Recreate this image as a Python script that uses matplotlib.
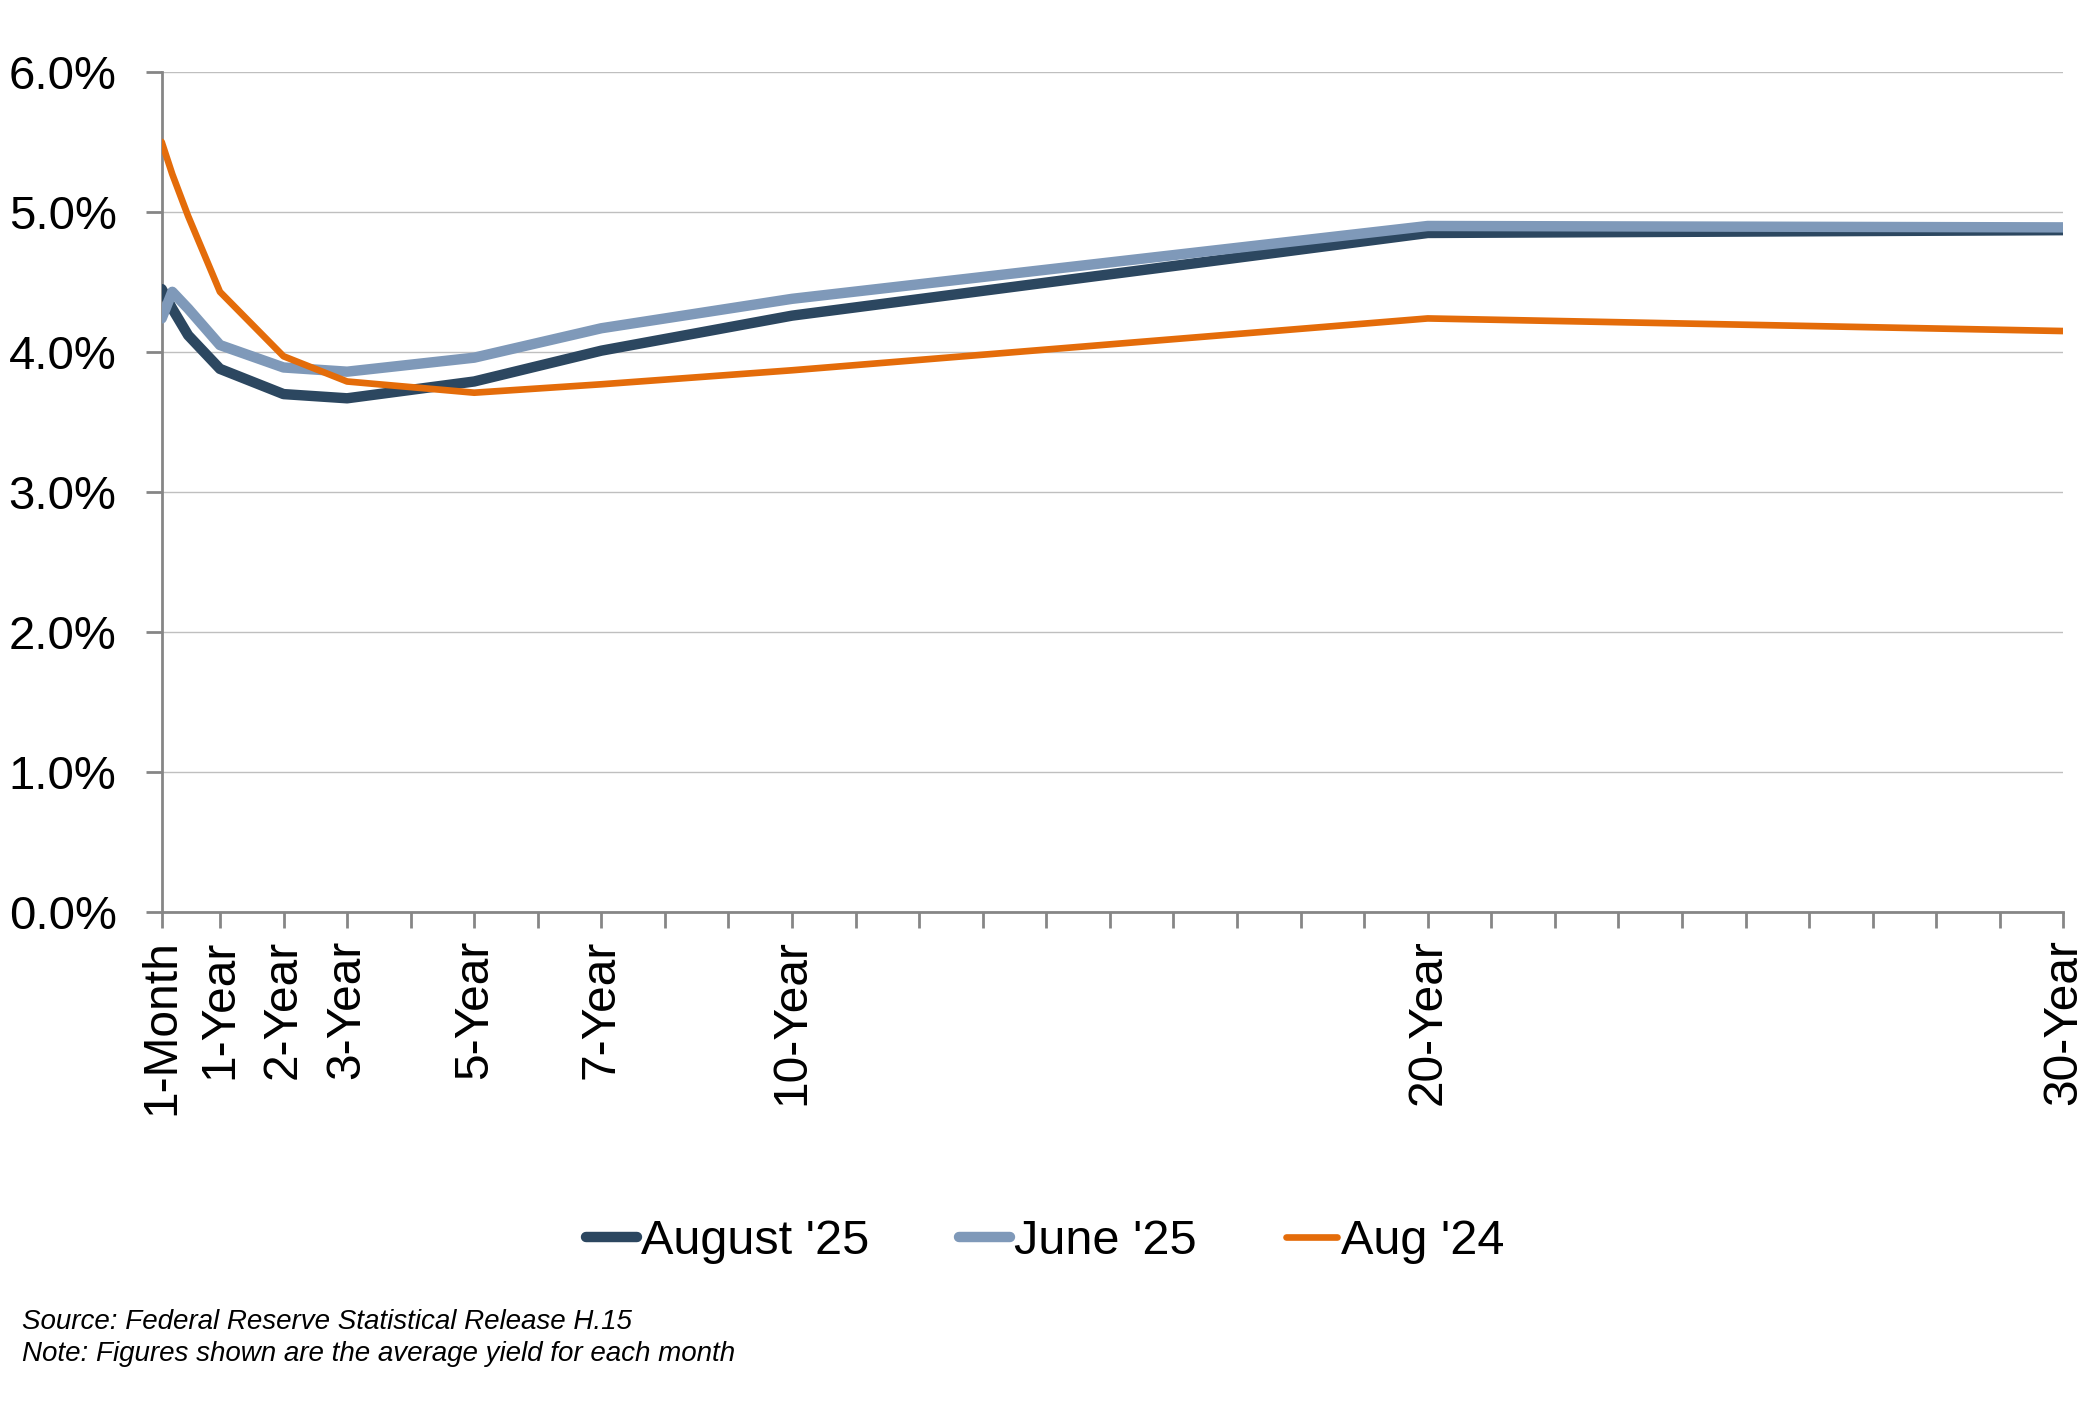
import numpy as np
import matplotlib
matplotlib.use('Agg')
from matplotlib import pyplot as plt
from matplotlib.ticker import FuncFormatter, FixedLocator

plt.rcParams['font.family'] = ['Liberation Sans', 'DejaVu Sans']

# maturities (years) and average yields (%)
tenor = ['1-Month', '3-Month', '6-Month', '1-Year', '2-Year', '3-Year',
         '5-Year', '7-Year', '10-Year', '20-Year', '30-Year']
term_years = [1 / 12, 0.25, 0.5, 1, 2, 3, 5, 7, 10, 20, 30]
aug25 = [4.45, 4.31, 4.12, 3.88, 3.70, 3.67, 3.79, 4.01, 4.26, 4.85, 4.87]
jun25 = [4.24, 4.43, 4.31, 4.05, 3.89, 3.86, 3.96, 4.17, 4.38, 4.90, 4.89]
aug24 = [5.50, 5.27, 4.97, 4.43, 3.97, 3.79, 3.71, 3.77, 3.87, 4.24, 4.15]
shown = ['1-Month', '1-Year', '2-Year', '3-Year', '5-Year', '7-Year',
         '10-Year', '20-Year', '30-Year']

c_dark = '#2C4760'
c_light = '#7F99B9'
c_orange = '#E46C0A'
c_axis = '#868686'
c_grid = '#BFBFBF'

fig = plt.figure(figsize=(20.78, 14.09), dpi=100)
ax = fig.add_axes([0.0778, 0.3524, 0.9152, 0.5966])

ax.plot(term_years, aug25, color=c_dark, lw=7.5, solid_capstyle='round',
        solid_joinstyle='round', label="August '25", zorder=3)
ax.plot(term_years, jun25, color=c_light, lw=7.5, solid_capstyle='round',
        solid_joinstyle='round', label="June '25", zorder=4)
ax.plot(term_years, aug24, color=c_orange, lw=4.8, solid_capstyle='round',
        solid_joinstyle='round', label="Aug '24", zorder=5)

ax.set_xlim(term_years[0], term_years[-1])
ax.set_ylim(0, 6)
ax.set_yticks(np.arange(0, 6.01, 1))
ax.yaxis.set_major_formatter(FuncFormatter(lambda v, p: '%.1f%%' % v))

major_x = [term_years[tenor.index(t)] for t in shown]
ax.xaxis.set_major_locator(FixedLocator(major_x))
ax.set_xticklabels(shown, rotation=90)
minor_x = [y for y in range(1, 31) if y not in major_x]
ax.xaxis.set_minor_locator(FixedLocator(minor_x))

ax.grid(axis='y', color=c_grid, lw=1.0, zorder=0)
ax.set_axisbelow(True)
for s in ['top', 'right']:
    ax.spines[s].set_visible(False)
for s in ['left', 'bottom']:
    ax.spines[s].set_color(c_axis)
    ax.spines[s].set_linewidth(2.0)

ax.tick_params(axis='y', which='major', length=11.5, width=2.0, color=c_axis,
               labelsize=34, pad=21)
ax.tick_params(axis='x', which='both', length=11.5, width=2.0, color=c_axis,
               labelsize=34.5, pad=8)

fig.legend(loc='center', bbox_to_anchor=(0.503, 0.119), ncol=3, frameon=False,
           fontsize=35, handlelength=1.05, handletextpad=0.08,
           columnspacing=1.85)

fig.text(0.0108, 0.062, 'Source: Federal Reserve Statistical Release H.15',
         style='italic', fontsize=20, va='center')
fig.text(0.0108, 0.039, 'Note: Figures shown are the average yield for each month',
         style='italic', fontsize=20, va='center')

fig.savefig('out.png', dpi=100)
